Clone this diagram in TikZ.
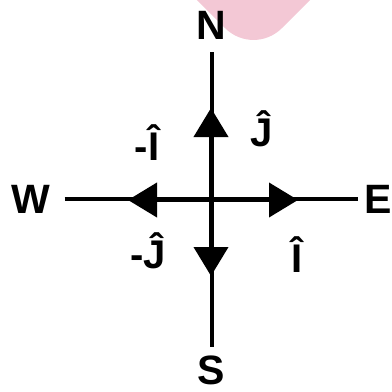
\documentclass[tikz,border=0pt]{standalone}
\usepackage{fontspec}
\setmainfont{Liberation Sans}
\usetikzlibrary{arrows.meta, positioning}
\definecolor{patchpink}{RGB}{243,200,213}
\tikzstyle{compass}=[inner sep=0pt, font=\fontsize{41}{43}\selectfont\bfseries]
\tikzstyle{unitvec}=[inner sep=0pt, anchor=base, font=\fontsize{40}{42}\selectfont\bfseries]
\tikzstyle{axis}=[line width=4pt]
\tikzstyle{vecarrow}=[line width=4pt, -{Triangle[length=29pt,width=34pt]}]

\begin{document}
\begin{tikzpicture}[x=1pt, y=-1pt]
  \useasboundingbox (0,0) rectangle (392,392);
  \clip (0,0) rectangle (392,392);
  % pink patch at the top
  \fill[patchpink, rounded corners=40pt] (150,-47) -- (253.5,56.5) -- (357,-47) -- cycle;
  \coordinate (O) at (211,200);
  \node[compass] (N) at (211.5,25) {N};
  \node[compass] (S) at (211.5,370) {S};
  \node[compass] (W) at (31,199) {W};
  \node[compass, anchor=west] (E) at (364,199) {E};
  \draw[axis, shorten <=13pt, shorten >=8pt] (N) -- (S);
  \draw[axis, shorten <=14pt, shorten >=6pt] (W) -- (E);
  % unit vectors
  \coordinate (tipN) at (211,108);
  \coordinate (tipS) at (211,276);
  \coordinate (tipW) at (128,200);
  \coordinate (tipE) at (298,200);
  \draw[vecarrow] (O) -- (tipN);
  \draw[vecarrow] (O) -- (tipS);
  \draw[vecarrow] (O) -- (tipW);
  \draw[vecarrow] (O) -- (tipE);
  \node[unitvec] (mi) at (147,160) {-Î};
  \node[unitvec] (pj) at (262,146) {Ĵ};
  \node[unitvec] (mj) at (148,268) {-Ĵ};
  \node[unitvec] (pi) at (297.5,272) {Î};
\end{tikzpicture}
\end{document}
